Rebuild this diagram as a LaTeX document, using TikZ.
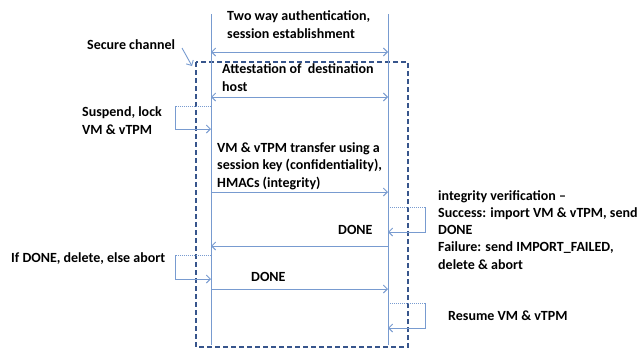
\documentclass[tikz,border=0pt]{standalone}
\usepackage{fontspec}
\setmainfont{Carlito}
\usetikzlibrary{positioning,arrows.meta}
\definecolor{lifeblue}{RGB}{120,155,208}
\definecolor{boxblue}{RGB}{55,85,140}
\tikzset{
  life/.style={draw=lifeblue, line width=0.9pt},
  msg/.style={draw=lifeblue, line width=0.9pt, -{Straight Barb[length=4pt,width=8pt]}},
  both/.style={draw=lifeblue, line width=0.9pt, {Straight Barb[length=4pt,width=8pt]}-{Straight Barb[length=4pt,width=8pt]}},
  fine/.style={draw=lifeblue, line width=0.8pt, dash pattern=on 1pt off 1pt},
  lbl/.style={font=\bfseries\fontsize{14}{17.2}\selectfont, anchor=base west, align=left, inner sep=0pt}
}
\begin{document}
\begin{tikzpicture}[x=1pt,y=-1pt]
    \useasboundingbox (0,0) rectangle (642,349);
    % secure channel box
    \draw[boxblue, line width=1.6pt, dash pattern=on 5pt off 3pt] (196,62) rectangle (408,347);
    % lifelines
    \coordinate (src top) at (211,14);
    \coordinate (src bot) at (211,345);
    \coordinate (dst top) at (388,14);
    \coordinate (dst bot) at (388,345);
    \draw[life] (src top) -- (src bot);
    \draw[life] (dst top) -- (dst bot);
    % labels (base = last line)
    \node[lbl] (auth) at (227,38) {Two way authentication,\\session establishment};
    \node[lbl] (chan) at (87,49) {Secure channel};
    \node[lbl] (attest) at (222,91) {Attestation of \ destination\\host};
    \node[lbl] (susp) at (82,134) {Suspend, lock\\VM \& vTPM};
    \node[lbl] (xfer) at (217,187) {VM \& vTPM transfer using a\\session key (confidentiality),\\HMACs (integrity)};
    \node[lbl] (verif) at (438,269) {integrity verification --\\Success: import VM \& vTPM, send\\DONE\\Failure: send IMPORT\_FAILED,\\delete \& abort};
    \node[lbl] (done1) at (338,234) {DONE};
    \node[lbl] (del) at (11,262) {If DONE, delete, else abort};
    \node[lbl] (done2) at (251,281) {DONE};
    \node[lbl] (resume) at (448,320) {Resume VM \& vTPM};
    % points on the lifelines
    \foreach \n/\y in {1/52,2/97,3/106,4/129,5/192,6/207,7/232,8/246,9/255,10/279,11/289,12/303,13/328}{
      \coordinate (s\n) at (211,\y);
      \coordinate (d\n) at (388,\y);
    }
    \coordinate (chan tail) at (182,48);
    \coordinate (chan head) at (192,66);
    % loop corners
    \coordinate (loop l1a) at (175,106);
    \coordinate (loop l1b) at (175,129);
    \coordinate (loop l2a) at (175,255);
    \coordinate (loop l2b) at (175,279);
    \coordinate (loop r1a) at (425,207);
    \coordinate (loop r1b) at (425,232);
    \coordinate (loop r2a) at (425,303);
    \coordinate (loop r2b) at (425,328);
    % messages
    \draw[msg] (chan tail) -- (chan head);
    \draw[both] (s1) -- (d1);
    \draw[both] (s2) -- (d2);
    \draw[fine] (s3) -- (loop l1a);
    \draw[msg] (loop l1a) -- (loop l1b) -- (s4);
    \draw[msg] (s5) -- (d5);
    \draw[fine] (d6) -- (loop r1a);
    \draw[msg] (loop r1a) -- (loop r1b) -- (d7);
    \draw[msg] (d8) -- (s8);
    \draw[fine] (s9) -- (loop l2a);
    \draw[msg] (loop l2a) -- (loop l2b) -- (s10);
    \draw[msg] (s11) -- (d11);
    \draw[fine] (d12) -- (loop r2a);
    \draw[msg] (loop r2a) -- (loop r2b) -- (d13);
\end{tikzpicture}
\end{document}
